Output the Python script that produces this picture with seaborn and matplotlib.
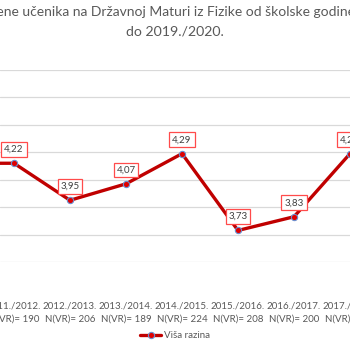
import matplotlib
matplotlib.use("Agg")
import matplotlib.pyplot as plt
import seaborn as sns
import pandas as pd

years = ["2010./2011.", "2011./2012.", "2012./2013.", "2013./2014.", "2014./2015.",
         "2015./2016.", "2016./2017.", "2017./2018."]
n_vr = [195, 190, 206, 189, 224, 208, 200, 210]
ocjene = [4.22, 4.22, 3.95, 4.07, 4.29, 3.73, 3.83, 4.29]
labels = [f"{y}\nN(VR)= {n}" for y, n in zip(years, n_vr)]

df = pd.DataFrame({"x": range(len(years)), "ocjena": ocjene})

sns.set_theme(style="white")
plt.rcParams['font.family'] = ['Lato', 'DejaVu Sans']

fig = plt.figure(figsize=(3.5, 3.5), dpi=100)
ax = fig.add_axes([0, (350 - 262) / 350, 1, (262 - 70) / 350])

red = "#C00000"
sns.lineplot(data=df, x="x", y="ocjena", ax=ax, color=red, linewidth=2.4,
             marker="o", markersize=4.5, markerfacecolor="#E00000",
             markeredgecolor="#6A8FD0", markeredgewidth=0.8, label="Viša razina")

for xi, v in zip(df["x"], df["ocjena"]):
    ax.annotate(f"{v:.2f}".replace(".", ","), (xi, v), xytext=(0, 10),
                textcoords="offset points", ha="center", va="center",
                fontsize=7, color="#404040",
                bbox=dict(boxstyle="square,pad=0.3", fc="white", ec="#FF4B4B", lw=0.9))

ax.set_yticks([3.5, 3.7, 3.9, 4.1, 4.3, 4.5, 4.7, 4.9])
ax.yaxis.grid(True, color="#D9D9D9", linewidth=0.9)
ax.set_xticks(list(df["x"]))
ax.set_xticklabels(labels, fontsize=7, color="#595959", linespacing=1.6)
ax.set_xlim(1 - 14 / 56, 1 + 336 / 56)
ax.set_ylim(3.5, 4.9)
ax.tick_params(axis="x", length=0, pad=28.5)
ax.tick_params(axis="y", length=0, labelleft=False)
for s in ax.spines.values():
    s.set_visible(False)
ax.set_xlabel("")
ax.set_ylabel("")

leg = ax.legend(loc="center", bbox_to_anchor=(0.5, (350 - 336) / 350),
                bbox_transform=fig.transFigure, frameon=False, fontsize=7,
                handlelength=2.2, handletextpad=0.3)
for t in leg.get_texts():
    t.set_color("#595959")

fig.text(0.5, 1 - 12 / 350, "Prosječne ocjene učenika na Državnoj Maturi iz Fizike od školske godine 2010./2011.",
         ha="center", va="center", fontsize=10, color="#595959")
fig.text(0.5, 1 - 32 / 350, "do 2019./2020.", ha="center", va="center",
         fontsize=10.2, color="#595959")

fig.savefig("out.png", dpi=100)
